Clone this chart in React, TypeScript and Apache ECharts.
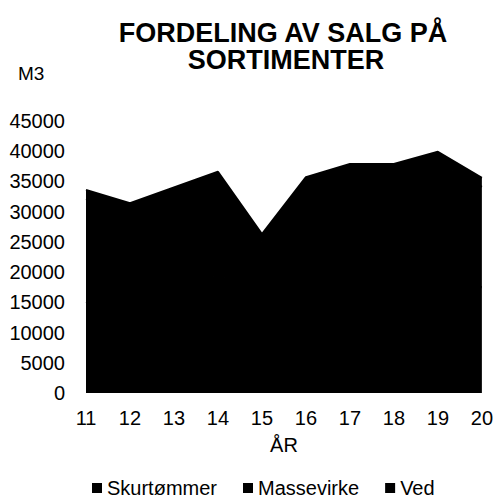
import React, { useEffect, useRef } from "react";
import * as echarts from "echarts";

const years = ["11", "12", "13", "14", "15", "16", "17", "18", "19", "20"];
const skurtommer = [14900, 16500, 18000, 19500, 17500, 19000, 18200, 18200, 18200, 17500];
const massevirke = [17200, 13600, 14700, 15700, 7600, 15300, 18200, 18200, 20100, 16600];
const ved = [1500, 1300, 1300, 1400, 1200, 1400, 1500, 1500, 1600, 1500];
const seriesNames = ["Skurtømmer", "Massevirke", "Ved"];
const yTicks = { min: 0, max: 45000, interval: 5000 };

const FONT = "Liberation Sans, Arial, sans-serif";

export default function App() {
  const ref = useRef<HTMLDivElement>(null);
  useEffect(() => {
    document.body.style.margin = "0";
    if (!ref.current) return;
    const chart = echarts.init(ref.current, null, { renderer: "svg" });
    const mk = (name: string, data: number[], z: number) => ({
      name,
      type: "line",
      stack: "total",
      data,
      z,
      symbol: "none",
      lineStyle: { color: "#000", width: 2 },
      itemStyle: { color: "#000" },
      areaStyle: { color: "#000", opacity: 1 },
    });
    chart.setOption({
      animation: false,
      textStyle: { fontFamily: FONT },
      graphic: [
        {
          type: "text",
          x: 283,
          y: 33,
          style: {
            text: "FORDELING AV SALG PÅ",
            textAlign: "center",
            textVerticalAlign: "middle",
            fontSize: 27,
            fontWeight: "bold",
            fontFamily: FONT,
            fill: "#000",
          },
        },
        {
          type: "text",
          x: 286,
          y: 60,
          style: {
            text: "SORTIMENTER",
            textAlign: "center",
            textVerticalAlign: "middle",
            fontSize: 27,
            fontWeight: "bold",
            fontFamily: FONT,
            fill: "#000",
          },
        },
        {
          type: "text",
          x: 18,
          y: 73,
          style: {
            text: "M3",
            textVerticalAlign: "middle",
            fontSize: 19,
            fontFamily: FONT,
            fill: "#000",
          },
        },
      ],
      grid: { left: 86, right: 14, top: 121, bottom: 106 },
      legend: {
        top: 478,
        left: 92,
        padding: 0,
        icon: "rect",
        itemWidth: 10,
        itemHeight: 10,
        itemGap: 26,
        textStyle: { fontSize: 20, color: "#000", fontFamily: FONT },
        data: seriesNames,
      },
      xAxis: {
        type: "category",
        data: years,
        boundaryGap: false,
        axisLine: { show: false },
        axisTick: { show: false },
        axisLabel: { fontSize: 20, color: "#000", margin: 15 },
        name: "ÅR",
        nameLocation: "middle",
        nameGap: 42,
        nameTextStyle: { fontSize: 20, color: "#000" },
      },
      yAxis: {
        type: "value",
        min: yTicks.min,
        max: yTicks.max,
        interval: yTicks.interval,
        splitLine: { show: false },
        axisLine: { show: false },
        axisTick: { show: false },
        axisLabel: { fontSize: 20, color: "#000", margin: 21, formatter: (v: number) => String(v) },
      },
      series: [
        mk(seriesNames[0], skurtommer, 4),
        mk(seriesNames[1], massevirke, 3),
        mk(seriesNames[2], ved, 2),
      ],
    });
    return () => chart.dispose();
  }, []);
  return <div ref={ref} style={{ width: 496, height: 499 }} />;
}
